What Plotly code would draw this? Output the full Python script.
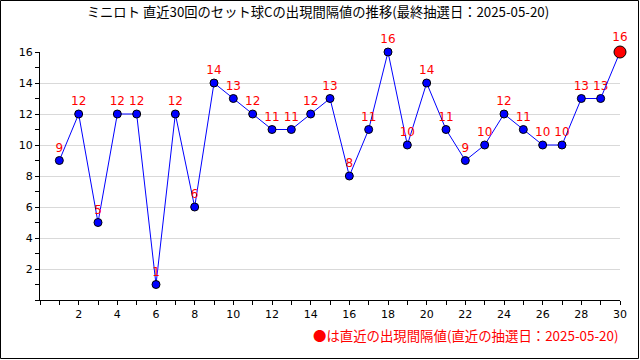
import plotly.graph_objects as go

draws = list(range(1, 31))
intervals = [9, 12, 5, 12, 12, 1, 12, 6, 14, 13, 12, 11, 11, 12, 13, 8, 11, 16, 10, 14,
             11, 9, 10, 12, 11, 10, 10, 13, 13, 16]
x_tick_vals = list(range(2, 31, 2))
y_tick_vals = list(range(2, 17, 2))
title_text = "ミニロト 直近30回のセット球Cの出現間隔値の推移(最終抽選日：2025-05-20)"
note_text = "●は直近の出現間隔値(直近の抽選日：2025-05-20)"

W, H = 640, 360
L, R, T, B = 40, 20, 52, 60
pw, ph = W - L - R, H - T - B

fig = go.Figure()
fig.add_trace(go.Scatter(
    x=draws[:-1], y=intervals[:-1], mode="lines+markers+text",
    text=[str(v) for v in intervals[:-1]], textposition="top center",
    textfont=dict(color="#ff0000", size=12, family="DejaVu Sans"),
    line=dict(color="#0000ff", width=1),
    marker=dict(color="#0000ff", size=8, line=dict(color="black", width=1)),
    cliponaxis=False, showlegend=False))
fig.add_trace(go.Scatter(
    x=[draws[-2], draws[-1]], y=[intervals[-2], intervals[-1]], mode="lines",
    line=dict(color="#0000ff", width=1), showlegend=False))
fig.add_trace(go.Scatter(
    x=[draws[-1]], y=[intervals[-1]], mode="markers+text",
    text=[str(intervals[-1])], textposition="top center",
    textfont=dict(color="#ff0000", size=12, family="DejaVu Sans"),
    marker=dict(color="#ff0000", size=12, line=dict(color="black", width=1)),
    cliponaxis=False, showlegend=False))

def px_x(p):
    return (p - L) / pw

def px_y(p):
    return (H - B - p) / ph

fig.update_layout(
    width=W, height=H, margin=dict(l=L, r=R, t=T, b=B),
    paper_bgcolor="white", plot_bgcolor="white",
    title=dict(text=title_text, x=318 / W, xref="container", xanchor="center",
               y=1 - 12 / H, yanchor="middle",
               font=dict(size=13.3, color="black", family="Noto Sans CJK JP")),
    xaxis=dict(range=[0, 30], tickmode="array", tickvals=x_tick_vals,
               ticks="outside", ticklen=4, tickcolor="black",
               showline=True, linecolor="black", linewidth=1, showgrid=False,
               zeroline=False, tickfont=dict(size=11, color="black", family="DejaVu Sans"),
               minor=dict(tickmode="linear", tick0=0, dtick=1, ticks="outside",
                          ticklen=4, tickcolor="black", showgrid=False)),
    yaxis=dict(range=[0, 16], tickmode="array", tickvals=y_tick_vals,
               ticks="outside", ticklen=4, tickcolor="black",
               showline=True, linecolor="black", linewidth=1,
               showgrid=True, gridcolor="#d9d9d9", gridwidth=1,
               zeroline=False, tickfont=dict(size=11, color="black", family="DejaVu Sans"),
               minor=dict(tickmode="linear", tick0=0, dtick=1, ticks="outside",
                          ticklen=4, tickcolor="black", showgrid=False)),
    shapes=[dict(type="rect", xref="paper", yref="paper",
                 x0=px_x(0.5), x1=px_x(638.5), y0=px_y(0.5), y1=px_y(358.5),
                 line=dict(color="black", width=1), layer="above")],
    annotations=[dict(text=note_text, xref="paper", yref="paper",
                      x=px_x(620), y=px_y(335), xanchor="right", yanchor="middle",
                      showarrow=False,
                      font=dict(size=13.4, color="#ff0000", family="Noto Sans CJK JP"))],
)

fig.write_html("out.html", config={"displayModeBar": False},
               post_script="document.body.style.margin='0';document.body.style.overflow='hidden';")
